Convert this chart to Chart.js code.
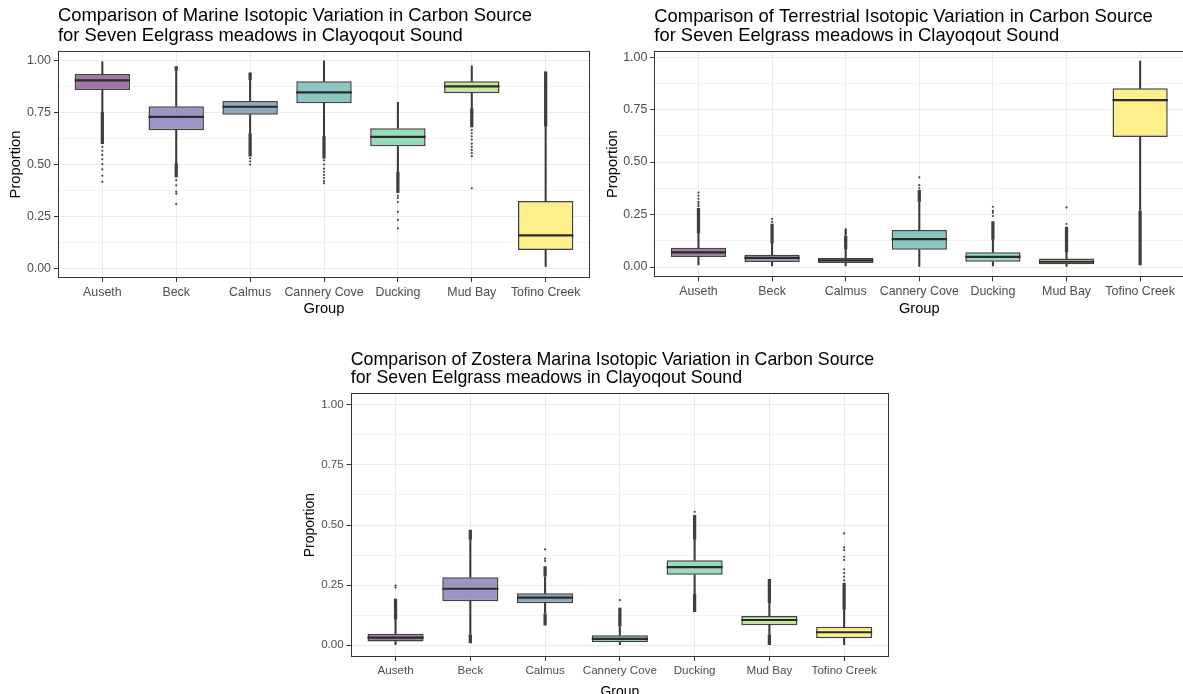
<!DOCTYPE html>
<html>
<head>
<meta charset="utf-8">
<script src="https://cdn.jsdelivr.net/npm/chart.js@4.4.1/dist/chart.umd.min.js"></script>
<style>
  html, body { margin: 0; padding: 0; background: #ffffff; overflow: hidden; width: 1183px; height: 694px; }
  .panel { position: absolute; }
</style>
</head>
<body>
<div class="panel" id="p1" style="left:0px;top:0px;width:595px;height:320px;"><canvas id="c1"></canvas></div>
<div class="panel" id="p2" style="left:600px;top:0px;width:590px;height:320px;"><canvas id="c2"></canvas></div>
<div class="panel" id="p3" style="left:295px;top:340px;width:600px;height:354px;"><canvas id="c3"></canvas></div>
<script>
// ---- Sites ----
const groups = ['Auseth', 'Beck', 'Calmus', 'Cannery Cove', 'Ducking', 'Mud Bay', 'Tofino Creek'];
const yTicks = [0, 0.125, 0.25, 0.375, 0.5, 0.625, 0.75, 0.875, 1];
const yAxisTitle = 'Proportion';
const xAxisTitle = 'Group';

// Fill colour of each site's box
const groupColors = [
  'rgba(142,97,148,0.85)', 'rgba(139,132,186,0.85)', 'rgba(123,155,179,0.85)',
  'rgba(117,188,186,0.85)', 'rgba(134,215,174,0.85)', 'rgba(186,228,139,0.85)',
  'rgba(253,236,120,0.85)'
];

// ---- Marine source ----
const marineTitle = ['Comparison of Marine Isotopic Variation in Carbon Source', 'for Seven Eelgrass meadows in Clayoqout Sound'];
const marineQ1 = [0.857, 0.664, 0.739, 0.794, 0.587, 0.842, 0.090];
const marineMedian = [0.904, 0.728, 0.777, 0.846, 0.633, 0.875, 0.160];
const marineQ3 = [0.934, 0.779, 0.805, 0.899, 0.674, 0.899, 0.325];
const marineWhiskerLow = [0.753, 0.507, 0.650, 0.637, 0.466, 0.770, 0.010];
const marineWhiskerHigh = [0.993, 0.950, 0.905, 0.997, 0.798, 0.973, 0.681];
const marineOutlierBandLow = [[0.60, 0.75], [0.44, 0.505], [0.54, 0.648], [0.53, 0.635], [0.365, 0.463], [0.68, 0.768], null];
const marineOutlierBandHigh = [null, [0.952, 0.97], [0.907, 0.94], null, null, null, [0.683, 0.945]];
const marineOutliers = [
  [0.585, 0.566, 0.546, 0.525, 0.502, 0.477, 0.446, 0.417],
  [0.425, 0.40, 0.37, 0.36, 0.31],
  [0.53, 0.515, 0.50],
  [0.52, 0.50, 0.48, 0.465, 0.45, 0.435, 0.42, 0.41],
  [0.35, 0.34, 0.32, 0.273, 0.234, 0.194],
  [0.665, 0.65, 0.635, 0.62, 0.60, 0.585, 0.57, 0.555, 0.54, 0.386],
  []
];

// ---- Terrestrial source ----
const terrestrialTitle = ['Comparison of Terrestrial Isotopic Variation in Carbon Source', 'for Seven Eelgrass meadows in Clayoqout Sound'];
const terrestrialQ1 = [0.048, 0.024, 0.019, 0.082, 0.025, 0.013, 0.619];
const terrestrialMedian = [0.070, 0.044, 0.032, 0.133, 0.048, 0.025, 0.795];
const terrestrialQ3 = [0.092, 0.059, 0.044, 0.176, 0.070, 0.040, 0.851];
const terrestrialWhiskerLow = [0.010, 0.005, 0.005, 0.000, 0.005, 0.000, 0.271];
const terrestrialWhiskerHigh = [0.160, 0.113, 0.084, 0.311, 0.129, 0.070, 0.981];
const terrestrialOutlierBandLow = [null, null, null, null, null, null, [0.01, 0.268]];
const terrestrialOutlierBandHigh = [[0.162, 0.28], [0.115, 0.205], [0.086, 0.148], [0.313, 0.365], [0.131, 0.216], [0.072, 0.19], null];
const terrestrialOutliers = [
  [0.29, 0.30, 0.31, 0.325, 0.34, 0.355],
  [0.215, 0.229],
  [0.155, 0.16, 0.165, 0.17, 0.175, 0.18],
  [0.375, 0.39, 0.427],
  [0.243, 0.259, 0.267, 0.287],
  [0.205, 0.284],
  []
];

// ---- Zostera marina source ----
const zosteraTitle = ['Comparison of Zostera Marina Isotopic Variation in Carbon Source', 'for Seven Eelgrass meadows in Clayoqout Sound'];
const zosteraQ1 = [0.015, 0.183, 0.175, 0.012, 0.293, 0.083, 0.029];
const zosteraMedian = [0.032, 0.235, 0.198, 0.026, 0.325, 0.105, 0.054];
const zosteraQ3 = [0.048, 0.283, 0.216, 0.042, 0.353, 0.122, 0.077];
const zosteraWhiskerLow = [0.000, 0.045, 0.133, 0.000, 0.216, 0.045, 0.000];
const zosteraWhiskerHigh = [0.105, 0.438, 0.285, 0.077, 0.438, 0.175, 0.147];
const zosteraOutlierBandLow = [null, [0.01, 0.043], [0.083, 0.131], null, [0.14, 0.214], [0.0, 0.043], null];
const zosteraOutlierBandHigh = [[0.107, 0.192], [0.44, 0.479], [0.287, 0.327], [0.079, 0.154], [0.44, 0.54], [0.177, 0.274], [0.149, 0.258]];
const zosteraOutliers = [
  [0.24, 0.248],
  [],
  [0.35, 0.36, 0.399],
  [0.188],
  [0.555],
  [],
  [0.27, 0.285, 0.30, 0.316, 0.355, 0.368, 0.396, 0.407, 0.465]
];

const FONT = '"Liberation Sans", Arial, Helvetica, sans-serif';

// Border, titles and axis titles drawn around the panel area
const panelDecor = {
  id: 'panelDecor',
  afterDraw(chart, args, opts) {
    const { ctx, chartArea: a } = chart;
    ctx.save();
    ctx.strokeStyle = '#333333';
    ctx.lineWidth = 1;
    ctx.strokeRect(Math.round(a.left) + 0.5, Math.round(a.top) + 0.5,
                   Math.round(a.right - a.left) - 1, Math.round(a.bottom - a.top) - 1);

    ctx.fillStyle = '#000000';
    ctx.textAlign = 'left';
    ctx.textBaseline = 'alphabetic';
    ctx.font = opts.titleSize + 'px ' + FONT;
    opts.title.forEach((line, i) => ctx.fillText(line, a.left, opts.titleBaselines[i]));

    ctx.font = opts.axisTitleSize + 'px ' + FONT;
    ctx.textAlign = 'center';
    ctx.fillText(xAxisTitle, (a.left + a.right) / 2, opts.xTitleBaseline);

    ctx.translate(opts.yTitleX, (a.top + a.bottom) / 2);
    ctx.rotate(-Math.PI / 2);
    ctx.textBaseline = 'middle';
    ctx.fillText(yAxisTitle, 0, 0);
    ctx.restore();
  }
};

function rangeData(ranges) {
  return ranges.map((r, i) => (r ? { x: i, y: r } : null)).filter(Boolean);
}

function makePanel(canvasId, s, layout) {
  const boxWidthHalf = (ctx) => {
    const sx = ctx.chart.scales.x;
    return Math.abs(sx.getPixelForValue(0.75) - sx.getPixelForValue(0)) / 2;
  };
  const points = [];
  s.outliers.forEach((vals, i) => vals.forEach(v => points.push({ x: i, y: v })));

  const datasets = [
    {
      type: 'line', label: 'median', order: 0,
      data: s.median.map((v, i) => ({ x: i, y: v })),
      showLine: false, pointStyle: 'line',
      pointRadius: boxWidthHalf, pointHoverRadius: boxWidthHalf,
      pointBorderWidth: 2.2, pointBorderColor: '#2b2b2b', pointBackgroundColor: '#2b2b2b'
    },
    {
      type: 'bar', label: 'box', order: 1, grouped: false,
      data: s.q1.map((v, i) => ({ x: i, y: [v, s.q3[i]] })),
      backgroundColor: groupColors,
      borderColor: 'rgba(45,45,45,0.9)', borderWidth: 1.5, borderSkipped: false,
      categoryPercentage: 1, barPercentage: 0.75
    },
    {
      type: 'bar', label: 'whisker low', order: 2, grouped: false,
      data: s.whiskerLow.map((v, i) => ({ x: i, y: [v, s.q1[i]] })),
      backgroundColor: '#3a3a3a', borderWidth: 0, barThickness: 1.4
    },
    {
      type: 'bar', label: 'whisker high', order: 2, grouped: false,
      data: s.whiskerHigh.map((v, i) => ({ x: i, y: [s.q3[i], v] })),
      backgroundColor: '#3a3a3a', borderWidth: 0, barThickness: 1.4
    },
    {
      type: 'bar', label: 'outliers low', order: 3, grouped: false,
      data: rangeData(s.bandLow),
      backgroundColor: 'rgba(30,30,30,0.85)', borderWidth: 0, barThickness: 2.6
    },
    {
      type: 'bar', label: 'outliers high', order: 3, grouped: false,
      data: rangeData(s.bandHigh),
      backgroundColor: 'rgba(30,30,30,0.85)', borderWidth: 0, barThickness: 2.6
    },
    {
      type: 'line', label: 'outliers', order: 4,
      data: points, showLine: false,
      pointRadius: 1.1, pointHoverRadius: 1.1, pointBorderWidth: 0,
      pointBackgroundColor: 'rgba(40,40,40,0.85)'
    }
  ];

  const isMajor = (v) => Math.abs(v * 4 - Math.round(v * 4)) < 1e-6;

  return new Chart(document.getElementById(canvasId), {
    type: 'bar',
    data: { datasets },
    plugins: [panelDecor],
    options: {
      responsive: true,
      maintainAspectRatio: false,
      animation: false,
      events: [],
      layout: { padding: { left: 0, top: layout.top, right: layout.right, bottom: 0 } },
      plugins: {
        legend: { display: false },
        tooltip: { enabled: false },
        title: { display: false },
        panelDecor: {
          title: s.title,
          titleSize: layout.titleSize,
          titleBaselines: layout.titleBaselines,
          axisTitleSize: layout.axisTitleSize,
          xTitleBaseline: layout.xTitleBaseline,
          yTitleX: layout.yTitleX
        }
      },
      scales: {
        x: {
          type: 'linear',
          min: -0.6, max: 6.6,
          offset: false,
          afterBuildTicks: (scale) => { scale.ticks = groups.map((g, i) => ({ value: i })); },
          afterFit: (scale) => { scale.height = layout.height - layout.bottom; },
          ticks: {
            autoSkip: false, maxRotation: 0, minRotation: 0, padding: 3,
            color: '#4d4d4d', font: { family: FONT, size: layout.tickSize },
            callback: (v) => groups[v]
          },
          grid: { offset: false, color: '#ebebeb', lineWidth: 1, tickColor: '#333333', tickLength: 4, drawOnChartArea: true },
          border: { display: false }
        },
        y: {
          type: 'linear',
          min: layout.yMin, max: layout.yMax,
          afterBuildTicks: (scale) => { scale.ticks = yTicks.map(v => ({ value: v })); },
          afterFit: (scale) => { scale.width = layout.left; },
          ticks: {
            padding: 3, color: '#4d4d4d', font: { family: FONT, size: layout.tickSize },
            callback: (v) => (isMajor(v) ? v.toFixed(2) : '')
          },
          grid: {
            color: (c) => (c.tick && isMajor(c.tick.value) ? '#ebebeb' : '#f3f3f3'),
            lineWidth: 1,
            tickColor: (c) => (c.tick && isMajor(c.tick.value) ? '#333333' : 'rgba(0,0,0,0)'),
            tickLength: 4
          },
          border: { display: false }
        }
      }
    }
  });
}

makePanel('c1', {
  title: marineTitle, q1: marineQ1, median: marineMedian, q3: marineQ3,
  whiskerLow: marineWhiskerLow, whiskerHigh: marineWhiskerHigh,
  bandLow: marineOutlierBandLow, bandHigh: marineOutlierBandHigh, outliers: marineOutliers
}, {
  height: 320, left: 58, top: 51, right: 5, bottom: 278,
  yMin: -0.0445, yMax: 1.0445,
  titleSize: 18.4, titleBaselines: [21, 40.5], axisTitleSize: 14.7,
  xTitleBaseline: 312.5, yTitleX: 16, tickSize: 12.4
});

makePanel('c2', {
  title: terrestrialTitle, q1: terrestrialQ1, median: terrestrialMedian, q3: terrestrialQ3,
  whiskerLow: terrestrialWhiskerLow, whiskerHigh: terrestrialWhiskerHigh,
  bandLow: terrestrialOutlierBandLow, bandHigh: terrestrialOutlierBandHigh, outliers: terrestrialOutliers
}, {
  height: 320, left: 54.3, top: 51, right: 5.7, bottom: 277.3,
  yMin: -0.049, yMax: 1.029,
  titleSize: 18.4, titleBaselines: [21.5, 40.5], axisTitleSize: 14.7,
  xTitleBaseline: 312.5, yTitleX: 12.5, tickSize: 12.4
});

makePanel('c3', {
  title: zosteraTitle, q1: zosteraQ1, median: zosteraMedian, q3: zosteraQ3,
  whiskerLow: zosteraWhiskerLow, whiskerHigh: zosteraWhiskerHigh,
  bandLow: zosteraOutlierBandLow, bandHigh: zosteraOutlierBandHigh, outliers: zosteraOutliers
}, {
  height: 354, left: 55.7, top: 53.3, right: 6, bottom: 317,
  yMin: -0.049, yMax: 1.048,
  titleSize: 17.8, titleBaselines: [25, 43], axisTitleSize: 13.9,
  xTitleBaseline: 356, yTitleX: 15.3, tickSize: 11.6
});
</script>
</body>
</html>
